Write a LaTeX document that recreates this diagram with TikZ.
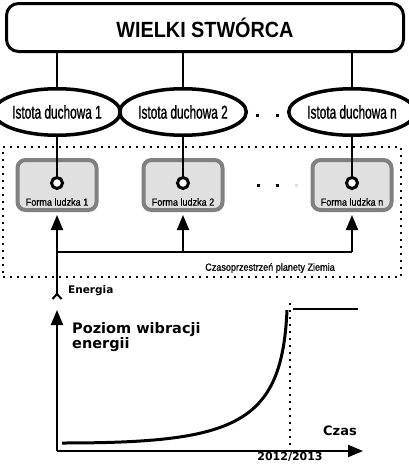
\documentclass[tikz,border=0pt]{standalone}
\usepackage{fontspec}
\setmainfont{Liberation Sans}
\newfontfamily\titlef[FakeStretch=0.9]{Liberation Sans}
\newfontfamily\istf[FakeStretch=0.64,FakeBold=1]{Liberation Sans}
\newfontfamily\smallf[FakeStretch=0.88,FakeBold=0.8]{Liberation Sans}
\newfontfamily\graphf{DejaVu Sans}
\usetikzlibrary{shapes.geometric,arrows.meta}
\definecolor{formfill}{HTML}{E0E0E0}
\definecolor{formdraw}{HTML}{808080}
\tikzset{
  topbox/.style={draw, line width=3pt, rounded corners=12pt, minimum width=397pt,
    minimum height=48pt, inner sep=0pt, font=\titlef\bfseries\fontsize{22}{22}\selectfont},
  spirit/.style={draw, ellipse, line width=3.5pt, minimum width=106.5pt, minimum height=46.5pt,
    inner sep=0pt, font=\istf\fontsize{18.5}{18.5}\selectfont},
  form/.style={draw=formdraw, fill=formfill, line width=4pt, rounded corners=8pt,
    minimum width=79pt, minimum height=50pt, inner sep=0pt},
  ring/.style={circle, draw, line width=3pt, fill=white, minimum size=11pt, inner sep=0pt},
  smalltext/.style={inner sep=0pt, font=\smallf\fontsize{10.3}{10.3}\selectfont},
  link/.style={line width=2pt},
  bigarrow/.style={line width=2pt, -{Triangle[length=15pt,width=12pt]}},
  dotsq/.style={fill, minimum size=3pt, inner sep=0pt},
  dotbox/.style={draw, line width=1.6pt, dash pattern=on 1.6pt off 5.4pt,
    minimum width=398pt, minimum height=130pt, inner sep=0pt},
  graphtext/.style={inner sep=0pt, font=\graphf\bfseries\fontsize{#1}{#1}\selectfont},
}
\begin{document}
\begin{tikzpicture}[x=1pt,y=-1pt]
\useasboundingbox (0,0) rectangle (408,466);

% top box
\node[topbox] (top) at (205,27.5) {WIELKI STWÓRCA};

% spirit ellipses
\node[spirit] (s1) at (57,112) {Istota duchowa 1};
\node[spirit] (s2) at (183,112) {Istota duchowa 2};
\node[spirit] (sn) at (352,112) {Istota duchowa n};
\draw[link] (top.south -| s1) -- (s1.north);
\draw[link] (top.south -| s2) -- (s2.north);
\draw[link] (top.south -| sn) -- (sn.north);
\node[dotsq] (sd1) at (257,115) {};
\node[dotsq] (sd2) at (277,115) {};

% space-time region
\node[dotbox] (earth) at (202,212) {};

% human forms
\node[form] (f1) at (57,185) {};
\node[form] (f2) at (183,185) {};
\node[form] (fn) at (352,185) {};
\node[smalltext] (t1) at (57,202) {Forma ludzka 1};
\node[smalltext] (t2) at (183,202) {Forma ludzka 2};
\node[smalltext] (tn) at (352,202) {Forma ludzka n};
\node[ring] (r1) at (57,183) {};
\node[ring] (r2) at (183,183) {};
\node[ring] (rn) at (352,183) {};
\draw[link] (s1.south) -- (r1.north);
\draw[link] (s2.south) -- (r2.north);
\draw[link] (sn.south) -- (rn.north);
\node[dotsq] (fd1) at (258,185) {};
\node[dotsq] (fd2) at (277,185) {};
\node[dotsq, fill=black!12] (fd3) at (296,185) {};

% energy bus
\coordinate (b1) at (57,252);
\coordinate (b2) at (183,252);
\coordinate (bn) at (352,252);
\coordinate (etail) at (57,300);
\draw[link] (b1) -- (bn);
\draw[bigarrow, shorten >=3pt] (b1) -- (f1.south);
\draw[bigarrow, shorten >=3pt] (b2) -- (f2.south);
\draw[bigarrow, shorten >=3pt] (bn) -- (fn.south);
\draw[link, {Straight Barb[reversed, length=5pt, width=9pt]}-] (etail) -- (b1);
\node[smalltext, anchor=center] (czt) at (270,268) {Czasoprzestrzeń planety Ziemia};
\node[graphtext=10.5, anchor=west] (energia) at (68,291) {Energia};

% graph
\coordinate (O) at (57,451);
\coordinate (ytip) at (57,310);
\coordinate (xtip) at (363,451);
\draw[bigarrow] (O) -- (ytip);
\draw[bigarrow] (O) -- (xtip);
\node[inner sep=0pt, anchor=north west, align=left, font=\graphf\bfseries\fontsize{14.5}{13}\selectfont] (poziom) at (72,322.5) {Poziom wibracji\\energii};
\coordinate (c0) at (62,443);
\coordinate (cA) at (235,443);
\coordinate (cB) at (282,425);
\coordinate (c1) at (287,310);
\draw[line width=3pt] (c0) .. controls (cA) and (cB) .. (c1);
\coordinate (v0) at (290,303);
\coordinate (v1) at (290,457);
\draw[line width=1.6pt, dash pattern=on 1.6pt off 5.4pt] (v0) -- (v1);
\coordinate (p0) at (293,309);
\coordinate (p1) at (358,309);
\draw[line width=2.5pt] (p0) -- (p1);
\node[graphtext=13, anchor=base west] (czas) at (323,435) {Czas};
\node[graphtext=11, anchor=base] (year) at (290,460) {2012/2013};
\end{tikzpicture}
\end{document}
